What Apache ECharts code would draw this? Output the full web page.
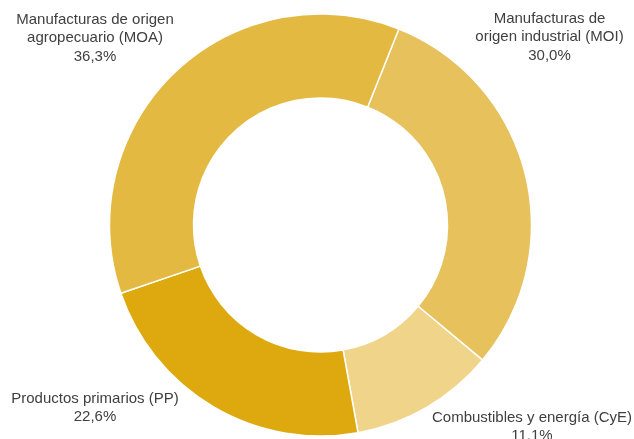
<!DOCTYPE html>
<html>
<head>
<meta charset="utf-8">
<script src="https://cdn.jsdelivr.net/npm/echarts@6/dist/echarts.min.js"></script>
<style>html,body{margin:0;padding:0;background:#fff;}#c{width:634px;height:439px;}</style>
</head>
<body>
<div id="c"></div>
<script>
const categories = [
  'Manufacturas de\norigen industrial (MOI)',
  'Combustibles y energía (CyE)',
  'Productos primarios (PP)',
  'Manufacturas de origen\nagropecuario (MOA)'
];
const values = [30.0, 11.1, 22.6, 36.3];
const colors = ['#E6C15C', '#EFD48A', '#DDA90F', '#E3B941'];
const labelSpots = [[549.5, 37], [532, 427], [95, 408], [95, 38]];

const chart = echarts.init(document.getElementById('c'));
chart.setOption({
  animation: false,
  series: [{
    type: 'pie',
    center: [320.5, 225],
    radius: [127, 211],
    startAngle: 68.2,
    clockwise: true,
    data: categories.map((n, i) => ({ name: n, value: values[i], itemStyle: { color: colors[i] } })),
    itemStyle: { borderColor: '#fff', borderWidth: 1.5 },
    label: {
      show: true,
      position: 'outside',
      alignTo: 'none',
      overflow: 'none',
      formatter: p => p.name + '\n' + p.value.toFixed(1).replace('.', ',') + '%',
      fontFamily: 'Liberation Sans, Arial, sans-serif',
      fontSize: 15,
      lineHeight: 18.5,
      color: '#404040',
      align: 'center'
    },
    labelLine: { show: false },
    labelLayout: p => ({ x: labelSpots[p.dataIndex][0], y: labelSpots[p.dataIndex][1], align: 'center', verticalAlign: 'middle', width: 300 })
  }]
});
</script>
</body>
</html>
